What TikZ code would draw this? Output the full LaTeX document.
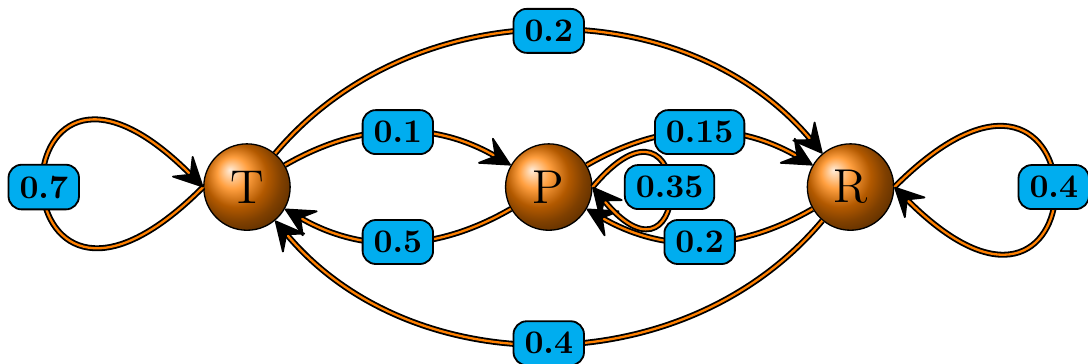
\documentclass[tikz,border=0pt]{standalone}
\usepackage{xcolor}
\usepackage{tikz}
\usetikzlibrary{arrows.meta, positioning}

\begin{document}
\begin{tikzpicture}[
        statenode/.style={circle, draw, thin, shading=ball, ball color=orange, minimum size=9.2mm, inner sep=0pt, font=\Large},
        prob/.style={rectangle, draw, rounded corners, fill=cyan, font=\bfseries},
        arr/.style={-{Stealth[round, length=10pt, width=10pt, inset=4pt]}, draw=black, double=orange, line width=0.55pt, double distance=0.7pt}
    ]
        \useasboundingbox (-2.63,-1.874) rectangle (8.957,1.992);
        \node[statenode] (T) {T};
        \node[statenode, right=2.28cm of T] (P) {P};
        \node[statenode, right=2.28cm of P] (R) {R};
        \draw[arr] (T) to[bend left=30] node[prob] {0.1} (P);
        \draw[arr] (P) to[bend left=30] node[prob] {0.5} (T);
        \draw[arr] (P) to[bend left=30] node[prob] {0.15} (R);
        \draw[arr] (R) to[bend left=30] node[prob] {0.2} (P);
        \draw[arr] (T) to[bend left=50] node[prob] {0.2} (R);
        \draw[arr] (R) to[bend left=50] node[prob] {0.4} (T);
        \draw[arr] (T.west) to[out=225, in=135, min distance=3.2cm] node[prob] {0.7} (T.west);
        \draw[arr] (R.east) to[out=45, in=-45, min distance=3.2cm] node[prob] {0.4} (R.east);
        \draw[arr] (P.east) to[out=50, in=-50, min distance=1.7cm] node[prob] {0.35} (P.east);
    \end{tikzpicture}
\end{document}
